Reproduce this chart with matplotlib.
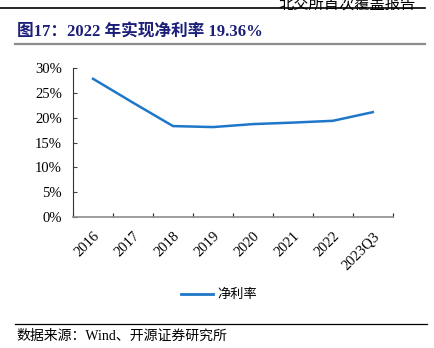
import matplotlib.pyplot as plt
from matplotlib.lines import Line2D

# 数据
years = ["2016", "2017", "2018", "2019", "2020", "2021", "2022", "2023Q3"]
net_margin = [27.8, 23.0, 18.3, 18.1, 18.7, 19.0, 19.36, 21.1]

TITLE = "图17：2022 年实现净利率 19.36%"
HEADER = "北交所首次覆盖报告"
SOURCE = "数据来源：Wind、开源证券研究所"
LEGEND = "净利率"

CJK = ["Noto Sans CJK SC", "DejaVu Sans"]
SERIF = ["Liberation Serif", "Noto Sans CJK SC"]

fig = plt.figure(figsize=(4.35, 3.48), dpi=100)

# 页眉 (顶部被裁切, 与原图一致)
fig.text(0.955, 1.012, HEADER, family=CJK, fontsize=11, ha="right", va="top", color="black")
fig.add_artist(Line2D([0.0, 0.977], [0.977, 0.977], color="black", lw=1.2))

# 标题
fig.text(0.038, 0.905, TITLE, family=["Liberation Serif", "Noto Sans CJK SC"], fontsize=12,
         fontweight="bold", color="#1c1f7a", ha="left", va="center")
fig.add_artist(Line2D([0.035, 0.977], [0.873, 0.873], color="#8c8c8c", lw=1.6))

ax = fig.add_axes([0.168, 0.376, 0.735, 0.429])
x = range(len(years))
ax.plot(x, net_margin, color="#1f77c9", lw=1.8)

ax.set_xlim(-0.5, len(years) - 0.5)
ax.set_ylim(0, 30)
ax.set_yticks(range(0, 31, 5))
ax.set_yticklabels([f"{v}%" for v in range(0, 31, 5)], family=SERIF, fontsize=10.5)
ax.set_xticks([i - 0.5 for i in range(len(years) + 1)])
ax.set_xticklabels([])
for i, y in enumerate(years):
    ax.text(i + 0.0, -2.5, y, rotation=45, ha="right", va="top", family=SERIF, fontsize=10.5,
            rotation_mode="anchor")

ax.tick_params(axis="y", direction="in", length=3, color="#444444", pad=8)
ax.tick_params(axis="x", direction="in", length=3, color="#222222")
for s in ["top", "right"]:
    ax.spines[s].set_visible(False)
ax.spines["left"].set_color("#333333")
ax.spines["bottom"].set_color("#8c8c8c")
ax.spines["bottom"].set_linewidth(1.2)

# 图例
fig.add_artist(Line2D([0.415, 0.49], [0.155, 0.155], color="#1f77c9", lw=2))
fig.text(0.5, 0.155, LEGEND, family=CJK, fontsize=9.5, ha="left", va="center")

# 数据来源
fig.add_artist(Line2D([0.035, 0.982], [0.07, 0.07], color="black", lw=0.9))
fig.text(0.038, 0.035, SOURCE, family=SERIF, fontsize=10, ha="left", va="center")

fig.savefig("out.png", dpi=100)
